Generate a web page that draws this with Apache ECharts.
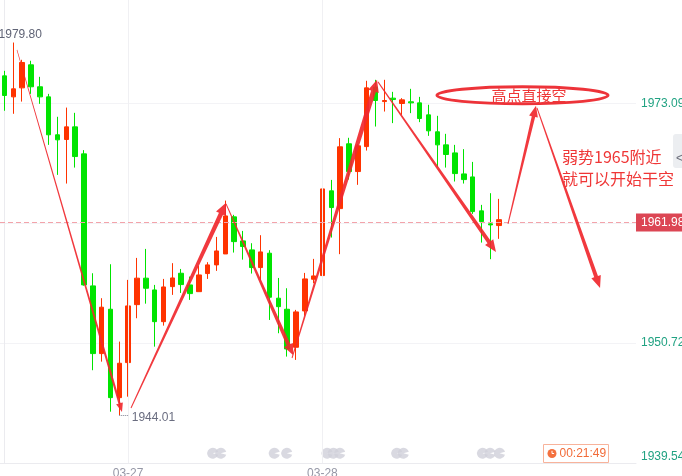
<!DOCTYPE html>
<html><head><meta charset="utf-8">
<script src="https://cdn.jsdelivr.net/npm/echarts@6/dist/echarts.min.js"></script>
<style>html,body{margin:0;padding:0;background:#fff}#c{width:682px;height:476px}</style>
</head><body><div id="c"></div>
<script>
// ---- data ----
const openP  = [1975.67,1973.71,1974.55,1976.70,1974.65,1973.71,1970.17,1969.73,1970.91,1968.39,
                1956.07,1949.75,1953.89,1945.64,1948.91,1954.32,1956.79,1955.69,1952.73,1956.00,
                1957.25,1956.16,1955.53,1957.22,1958.03,1959.05,1962.51,1960.27,1959.43,1957.78,
                1959.12,1954.92,1953.89,1950.34,1953.73,1956.69,1957.03,1964.94,1963.28,1969.33,
                1966.74,1969.07,1974.62,1973.27,1973.59,1973.09,1973.25,1973.15,1972.03,1970.45,
                1969.23,1968.48,1966.52,1966.24,1963.07,1961.86,1961.70];
const closeP = [1973.84,1974.46,1976.92,1974.65,1973.71,1970.17,1969.70,1970.91,1968.14,1956.16,
                1949.75,1954.08,1945.64,1948.85,1954.20,1956.79,1955.85,1952.73,1955.97,1956.81,
                1956.19,1955.35,1957.09,1958.03,1959.33,1962.60,1960.20,1959.74,1957.78,1959.24,
                1955.01,1954.13,1950.18,1953.64,1956.72,1957.00,1965.12,1963.38,1969.05,1966.74,
                1969.14,1974.55,1973.37,1973.37,1973.46,1973.43,1973.15,1971.69,1970.54,1969.23,
                1968.33,1966.55,1965.99,1963.00,1962.07,1961.76,1962.25];
const lowP   = [1972.41,1972.13,1973.27,1973.99,1973.06,1969.23,1966.43,1965.62,1967.11,1956.09,
                1948.20,1949.00,1944.33,1944.01,1945.73,1953.05,1954.41,1950.40,1952.36,1955.23,
                1955.41,1954.76,1955.53,1956.72,1957.47,1959.05,1959.18,1958.52,1957.22,1956.56,
                1952.89,1951.65,1949.47,1949.16,1953.29,1956.32,1956.79,1960.58,1959.03,1965.99,
                1965.50,1968.70,1970.94,1972.34,1971.26,1972.03,1972.19,1971.35,1970.07,1967.15,
                1967.11,1965.81,1965.62,1962.79,1960.11,1958.56,1960.46];
const highP  = [1976.14,1978.78,1977.17,1977.08,1975.58,1973.99,1971.85,1972.71,1972.22,1968.74,
                1957.25,1954.92,1958.09,1950.87,1956.63,1958.68,1959.52,1956.16,1956.72,1958.19,
                1957.65,1956.94,1957.93,1958.28,1960.64,1964.03,1962.70,1961.20,1960.05,1960.80,
                1959.40,1956.81,1955.85,1953.83,1957.28,1958.59,1967.36,1965.96,1969.86,1969.89,
                1969.30,1975.21,1975.30,1975.30,1974.18,1973.59,1974.46,1973.71,1972.97,1971.94,
                1970.26,1969.23,1968.83,1967.64,1963.63,1964.72,1964.19];
const slotCount = 72;                      // bars the time axis has room for
const dayTickIndex = [14, 36];
const dayTickLabels = ['03-27', '03-28'];
const yTickLabels = ['1939.54', '1950.72', '1961.91', '1973.09'];
const yMax = 1982.75;
const lastPrice = 1961.98;
const extremeLabels = ['1979.80', '1944.01'];
// event markers along the bottom (bar position)
const eventPos = [23.58, 24.49, 30.55, 31.96, 36.52, 37.23, 37.96, 44.41, 45.16, 54.12, 54.97, 56.05];
const eventLevel = 1940.45;
// hand-drawn annotation arrows: [fromBar, fromPrice, toBar, toPrice]
const arrowPaths = [
  [1.42, 1978.10, 13.31, 1944.30],
  [14.33, 1944.67, 25.09, 1963.82],
  [25.09, 1963.72, 32.67, 1949.62],
  [32.56, 1949.34, 42.18, 1975.30],
  [42.29, 1975.11, 55.65, 1959.24],
  [57.01, 1961.86, 60.18, 1972.87],
  [60.29, 1972.69, 67.43, 1955.88]
];
const ellipseCenter = [58.65, 1973.85];
const noteTexts = ['高点直接空', '弱势1965附近\n就可以开始干空'];
const noteAnchors = [[59.39, 1973.90], [63.13, 1967.06]];

// ---- styles ----
const UP = '#ff3300', DOWN = '#00e400';
const ARROW = 'rgba(240,40,46,0.92)';
const NUM_FONT = '"Liberation Sans", Arial, "Noto Sans CJK SC", sans-serif';
const CJK_FONT = '"Noto Sans CJK SC", "Liberation Sans", sans-serif';
// [startWidth, endWidth, headLength, headWidth]
const arrowShape = [[0.6,2.2,9,7],[1,4.5,12,11],[1,4,11,10],[1,5,12,11],[1,4,12,10],[1,3.5,11,9],[1,4,12,10]];

const categories = Array.from({length: slotCount}, (_, i) => 'bar' + i);
const candleData = openP.map((o, i) => [o, closeP[i], lowP[i], highP[i]]);
const yMin = +yTickLabels[0];
const yInterval = (+yTickLabels[3] - +yTickLabels[0]) / 3;
let hiIdx = 0, loIdx = 0;
highP.forEach((v, i) => { if (v > highP[hiIdx]) hiIdx = i; });
lowP.forEach((v, i) => { if (v < lowP[loIdx]) loIdx = i; });

const chart = echarts.init(document.getElementById('c'), null, {renderer: 'canvas'});

function renderArrow(params, api) {
  const p = api.coord([api.value(0), api.value(1)]);
  const q = api.coord([api.value(2), api.value(3)]);
  const s = arrowShape[params.dataIndex];
  const dx = q[0] - p[0], dy = q[1] - p[1], L = Math.hypot(dx, dy);
  const ux = dx / L, uy = dy / L, nx = -uy, ny = ux;
  const bx = q[0] - ux * s[2], by = q[1] - uy * s[2];
  const pts = [
    [p[0] + nx * s[0] / 2, p[1] + ny * s[0] / 2],
    [bx + nx * s[1] / 2, by + ny * s[1] / 2],
    [bx + nx * s[3] / 2, by + ny * s[3] / 2],
    [q[0], q[1]],
    [bx - nx * s[3] / 2, by - ny * s[3] / 2],
    [bx - nx * s[1] / 2, by - ny * s[1] / 2],
    [p[0] - nx * s[0] / 2, p[1] - ny * s[0] / 2]
  ];
  return {type: 'polygon', shape: {points: pts}, style: {fill: ARROW}};
}

const option = {
  animation: false,
  backgroundColor: '#fff',
  textStyle: {fontFamily: NUM_FONT},
  grid: {left: 0, right: 46, top: 0, bottom: 13, containLabel: false, outerBoundsMode: 'none'},
  xAxis: [
    {
      type: 'category', data: categories, boundaryGap: true,
      axisLine: {show: true, lineStyle: {color: '#ebebef'}},
      axisTick: {show: false}, splitLine: {show: false},
      axisLabel: {
        interval: (i) => dayTickIndex.includes(i),
        formatter: (v, i) => { const k = dayTickIndex.indexOf(i); return k >= 0 ? dayTickLabels[k] : ''; },
        color: '#9597a6', fontSize: 12, margin: 5, fontFamily: NUM_FONT
      }
    },
    {type: 'value', min: -0.5, max: slotCount - 0.5, show: false}
  ],
  yAxis: {
    type: 'value', position: 'right', min: yMin, max: yMax, interval: yInterval,
    axisLine: {show: true, lineStyle: {color: '#ebebef'}},
    axisTick: {show: false},
    splitLine: {show: true, showMaxLine: false, lineStyle: {color: '#f3f3f6'}},
    axisLabel: {
      color: '#21a282', fontSize: 12, margin: 5, showMaxLabel: false,
      formatter: (v) => v.toFixed(2), verticalAlign: 'middle', padding: [6, 0, 0, 0],
      verticalAlignMinLabel: 'bottom', fontFamily: NUM_FONT
    }
  },
  series: [
    {
      type: 'line', xAxisIndex: 1, data: [], silent: true, z: 1,
      markLine: {
        silent: true, symbol: ['none', 'none'], label: {show: false},
        lineStyle: {color: '#f0f0f3', type: 'solid', width: 1},
        data: dayTickIndex.map(i => ({xAxis: i}))
      }
    },
    {
      type: 'scatter', xAxisIndex: 1, silent: true, z: 2,
      data: eventPos.map(x => [x, eventLevel]),
      symbol: 'path://M10,10 L19.66,7.41 A10,10 0 1,0 19.66,12.59 Z',
      symbolSize: [11, 11],
      itemStyle: {color: '#cfd0da'}
    },
    {
      type: 'candlestick', data: candleData, barWidth: 5, z: 3,
      itemStyle: {color: UP, color0: DOWN, borderColor: UP, borderColor0: DOWN, borderWidth: 1},
      markLine: {
        silent: true, symbol: ['none', 'none'], animation: false,
        data: [
          {
            yAxis: lastPrice,
            lineStyle: {color: '#f3a3aa', type: [5, 3], width: 1},
            label: {
              show: true, position: 'end', distance: 0, formatter: lastPrice.toFixed(2),
              color: '#fff', backgroundColor: '#dc4654', padding: [3, 4, 3, 5], fontSize: 12,
              fontFamily: NUM_FONT
            }
          },
          [
            {coord: [loIdx, lowP[loIdx]], lineStyle: {type: 'dotted', color: '#7d8090', width: 1}, label: {show: false}},
            {coord: [loIdx + 1, lowP[loIdx]]}
          ]
        ]
      },
      markPoint: {
        silent: true, animation: false,
        data: [
          {
            coord: [hiIdx, highP[hiIdx]], symbol: 'circle', symbolSize: 1,
            itemStyle: {color: 'rgba(0,0,0,0)'},
            label: {show: true, position: 'top', distance: 1, offset: [7, 0], formatter: extremeLabels[0],
                    color: '#5f6375', fontSize: 12, fontFamily: NUM_FONT}
          },
          {
            coord: [loIdx, lowP[loIdx]], symbol: 'circle', symbolSize: 1,
            itemStyle: {color: 'rgba(0,0,0,0)'},
            label: {show: true, position: 'right', distance: 12, offset: [0, 3], formatter: extremeLabels[1],
                    color: '#6a6d80', fontSize: 12, fontFamily: NUM_FONT}
          }
        ]
      }
    },
    {
      type: 'custom', xAxisIndex: 1, z: 6, clip: false, silent: true,
      data: arrowPaths, encode: {x: [0, 2], y: [1, 3]},
      renderItem: renderArrow
    },
    {
      type: 'custom', xAxisIndex: 1, z: 6, clip: false, silent: true,
      data: [ellipseCenter], encode: {x: 0, y: 1},
      renderItem: (params, api) => {
        const c = api.coord([api.value(0), api.value(1)]);
        return {type: 'ellipse', shape: {cx: c[0], cy: c[1], rx: 85.5, ry: 8.5},
                style: {fill: 'none', stroke: 'rgba(236,40,46,0.95)', lineWidth: 3}};
      }
    },
    {
      type: 'custom', xAxisIndex: 1, z: 7, clip: false, silent: true,
      data: noteAnchors, encode: {x: 0, y: 1},
      renderItem: (params, api) => {
        const c = api.coord([api.value(0), api.value(1)]);
        const i = params.dataIndex;
        return {
          type: 'text', x: c[0], y: c[1],
          style: {
            text: noteTexts[i], fill: '#ef3636',
            fontSize: i === 0 ? 15 : 16, fontFamily: CJK_FONT,
            align: i === 0 ? 'center' : 'left', verticalAlign: 'middle',
            lineHeight: 22.5
          }
        };
      }
    }
  ],
  graphic: [
    {
      type: 'group', left: 543, top: 444, children: [
        {type: 'rect', shape: {x: 0, y: 0, width: 65, height: 18}, style: {fill: '#fff', stroke: '#f8b39b', lineWidth: 1}},
        {type: 'circle', shape: {cx: 8.5, cy: 9, r: 4.5}, style: {fill: '#f4713f'}},
        {type: 'polyline', shape: {points: [[8.5, 6.3], [8.5, 9], [10.6, 9]]}, style: {stroke: '#fff', lineWidth: 1, fill: null}},
        {type: 'text', x: 16, y: 9.5, style: {text: '00:21:49', fill: '#f26b38', fontSize: 12, fontFamily: NUM_FONT, verticalAlign: 'middle'}}
      ]
    },
    {type: 'rect', left: 673, top: 134, shape: {width: 12, height: 34, r: [3, 0, 0, 3]}, style: {fill: '#eceef1'}},
    {type: 'text', left: 676, top: 153, style: {text: '<', fill: '#6a6c78', fontSize: 12, fontFamily: NUM_FONT}}
  ]
};
chart.setOption(option);
</script>
</body></html>
